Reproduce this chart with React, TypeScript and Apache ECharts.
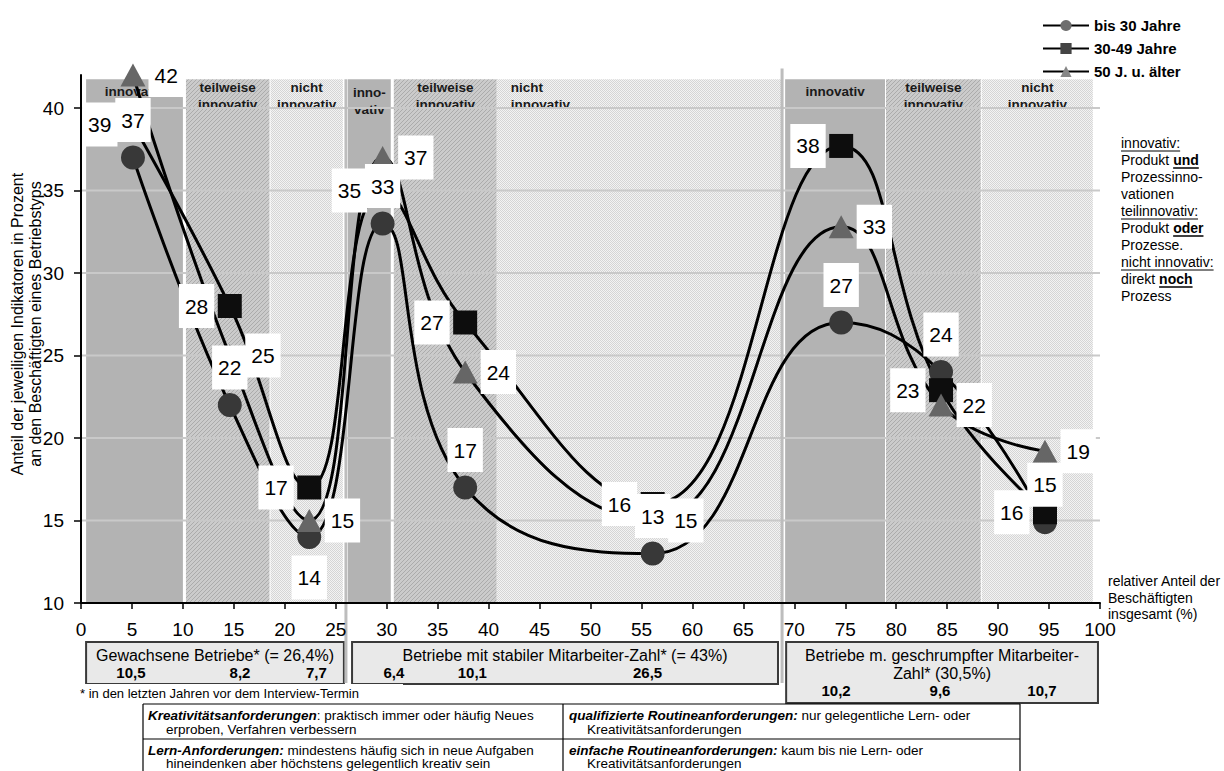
import React, { useEffect, useRef } from 'react';
import * as echarts from 'echarts';

const FONT = 'Arial, "Liberation Sans", Helvetica, sans-serif';

// ---------------- data ----------------
const seriesNames = ['bis 30 Jahre', '30-49 Jahre', '50 J. u. älter'];
const pointX = [5.1, 14.6, 22.4, 29.6, 37.7, 56.1, 74.6, 84.4, 94.6];
const valuesUnder30 = [37, 22, 14, 33, 17, 13, 27, 24, 14.9];
const values30to49 = [39, 28, 17, 35, 27, 16, 37.7, 22.9, 15.5];
const values50plus = [42, 25, 15, 37, 24, 15, 32.8, 22, 19.2];

const labelPosUnder30 = ['top', 'top', 'bottom', 'top', 'top', 'top', 'top', 'top', 'top'];
const labelPos30to49 = ['left', 'left', 'left', 'left', 'left', 'left', 'left', 'left', 'left'];
const labelPos50plus = ['right', 'right', 'right', 'right', 'right', 'right', 'right', 'right', 'right'];

const bandStart = [0.5, 10.3, 18.6, 26.2, 30.7, 40.8, 69.1, 79.0, 88.4];
const bandEnd = [10.0, 18.5, 25.7, 30.4, 40.8, 68.7, 78.9, 88.3, 99.3];
const bandKind = [0, 1, 2, 0, 1, 2, 0, 1, 2];
const bandTitle = [
  'innovativ', 'teilweise\ninnovativ', 'nicht\ninnovativ',
  'inno-\nvativ', 'teilweise\ninnovativ', 'nicht\ninnovativ',
  'innovativ', 'teilweise\ninnovativ', 'nicht\ninnovativ',
];
const BAND_TOP = 41.75;

const gridValues = [15, 20, 25, 30, 35, 40];
const yTickValues = [10, 15, 20, 25, 30, 35, 40];
const separatorX = [26.0, 68.8];
const separatorTop = [41.75, 42.4];

const groupStart = [0.5, 26.6, 69.2];
const groupEnd = [25.8, 68.4, 99.8];
const groupTitle = [
  'Gewachsene Betriebe* (= 26,4%)',
  'Betriebe mit stabiler Mitarbeiter-Zahl* (= 43%)',
  'Betriebe m. geschrumpfter Mitarbeiter-\nZahl* (30,5%)',
];
const groupShares = [['10,5', '8,2', '7,7'], ['6,4', '10,1', '26,5'], ['10,2', '9,6', '10,7']];
const groupShareX = [[4.9, 15.6, 23.1], [30.7, 38.4, 55.6], [74.1, 84.3, 94.3]];

const noteLines = [
  [{ t: 'innovativ:', u: true }],
  [{ t: 'Produkt ' }, { t: 'und', b: true, u: true }],
  [{ t: 'Prozessinno-' }],
  [{ t: 'vationen' }],
  [{ t: 'teilinnovativ:', u: true }],
  [{ t: 'Produkt ' }, { t: 'oder', b: true, u: true }],
  [{ t: 'Prozesse.' }],
  [{ t: 'nicht innovativ:', u: true }],
  [{ t: 'direkt ' }, { t: 'noch', b: true, u: true }],
  [{ t: 'Prozess' }],
];

const tableCells = [
  { x: 148, y: 715, text: '{bi|Kreativitätsanforderungen}: praktisch immer oder häufig Neues' },
  { x: 166, y: 729, text: 'erproben, Verfahren verbessern' },
  { x: 148, y: 750, text: '{bi|Lern-Anforderungen:} mindestens häufig sich in neue Aufgaben' },
  { x: 166, y: 763, text: 'hineindenken aber höchstens gelegentlich kreativ sein' },
  { x: 569, y: 715, text: '{bi|qualifizierte Routineanforderungen:} nur gelegentliche Lern- oder' },
  { x: 587, y: 729, text: 'Kreativitätsanforderungen' },
  { x: 569, y: 750, text: '{bi|einfache Routineanforderungen:} kaum bis nie Lern- oder' },
  { x: 587, y: 763, text: 'Kreativitätsanforderungen' },
];

const Y_MIN = 10;
const Y_MAX = 42;

function makeHatch() {
  const c = document.createElement('canvas');
  c.width = 4; c.height = 4;
  const g = c.getContext('2d')!;
  g.fillStyle = '#cbcbcb';
  g.fillRect(0, 0, 4, 4);
  g.fillStyle = '#ababab';
  for (let i = 0; i < 4; i++) g.fillRect(i, 3 - i, 1, 1);
  return c;
}
function makeDots() {
  const c = document.createElement('canvas');
  c.width = 2; c.height = 2;
  const g = c.getContext('2d')!;
  g.fillStyle = '#f3f3f3';
  g.fillRect(0, 0, 2, 2);
  g.fillStyle = '#d5d5d5';
  g.fillRect(0, 0, 1, 1);
  g.fillRect(1, 1, 1, 1);
  return c;
}

export default function App() {
  const ref = useRef<HTMLDivElement>(null);
  useEffect(() => {
    const el = ref.current!;
    const chart = echarts.init(el, null, { renderer: 'svg' });

    const fills: any[] = [
      '#b3b3b3',
      { image: makeHatch(), repeat: 'repeat', imageWidth: 4, imageHeight: 4 },
      { image: makeDots(), repeat: 'repeat', imageWidth: 2, imageHeight: 2 },
    ];
    const bandTitleAlign = bandKind.map((k, i) => (i === 5 ? 'left' : 'center'));
    const bandTitleOffset = [4, 0, 0, 5, 0, 0, 4, 0, 0];

    const mctx = document.createElement('canvas').getContext('2d')!;
    const measure = (t: string, bold?: boolean) => {
      mctx.font = `${bold ? 'bold ' : ''}14px ${FONT}`;
      return mctx.measureText(t).width;
    };

    const graphics: any[] = [];
    // y axis name
    graphics.push({
      type: 'text', x: 26, y: 324, rotation: Math.PI / 2,
      style: {
        text: 'Anteil der jeweiligen Indikatoren in Prozent\nan den Beschäftigten eines Betriebstyps',
        fontFamily: FONT, fontSize: 16, fill: '#000', align: 'center', verticalAlign: 'middle', lineHeight: 18,
      },
    });
    // x axis name
    graphics.push({
      type: 'text', x: 1108, y: 573,
      style: {
        text: 'relativer Anteil der\nBeschäftigten\ninsgesamt (%)',
        fontFamily: FONT, fontSize: 14, fill: '#000', align: 'left', verticalAlign: 'top', lineHeight: 16.5,
      },
    });
    // note block
    noteLines.forEach((line, li) => {
      let x = 1121;
      const y = 143 + li * 17;
      line.forEach((seg: any) => {
        const w = measure(seg.t, seg.b);
        graphics.push({
          type: 'text', x, y,
          style: {
            text: seg.t, fontFamily: FONT, fontSize: 14, fontWeight: seg.b ? 'bold' : 'normal',
            fill: '#000', align: 'left', verticalAlign: 'middle',
          },
        });
        if (seg.u) {
          const tw = seg.t.endsWith(' ') ? w - measure(' ') : w;
          graphics.push({
            type: 'line', shape: { x1: x, y1: y + 8, x2: x + tw, y2: y + 8 },
            style: { stroke: '#000', lineWidth: seg.b ? 1.5 : 1 },
          });
        }
        x += w;
      });
    });
    // cover below boxes + footnote
    graphics.push({ type: 'rect', z: 10, shape: { x: 78, y: 684, width: 325, height: 18 }, style: { fill: '#fff' } });
    graphics.push({
      type: 'text', z: 11, x: 80, y: 693,
      style: { text: '* in den letzten Jahren vor dem Interview-Termin', fontFamily: FONT, fontSize: 13, fill: '#000', align: 'left', verticalAlign: 'middle' },
    });
    // table
    const tl = [
      [143, 704, 1020, 704], [143, 739, 1020, 739],
      [143, 704, 143, 772], [563, 704, 563, 772], [1020, 704, 1020, 772],
    ];
    tl.forEach(([x1, y1, x2, y2]) => graphics.push({
      type: 'line', z: 11, shape: { x1, y1, x2, y2 }, style: { stroke: '#000', lineWidth: 1.2 },
    }));
    tableCells.forEach((c) => graphics.push({
      type: 'text', z: 11, x: c.x, y: c.y,
      style: {
        text: c.text, fontFamily: FONT, fontSize: 13.5, fill: '#000', align: 'left', verticalAlign: 'middle',
        rich: {
          bi: { fontFamily: FONT, fontSize: 13.5, fontWeight: 'bold', fontStyle: 'italic', fill: '#000' },
        },
      },
    }));

    const markerColor = ['#383838', '#0d0d0d', '#666666'];
    const legendColor = ['#6e6e6e', '#444444', '#858585'];
    const symbols = ['circle', 'rect', 'triangle'];
    const symbolSizes: any[] = [24, 24, [25, 23]];
    const allValues = [valuesUnder30, values30to49, values50plus];
    const allPos = [labelPosUnder30, labelPos30to49, labelPos50plus];

    const lineSeries = allValues.map((vals, s) => ({
      type: 'line', name: seriesNames[s],
      data: pointX.map((x, i) => [x, vals[i]]),
      smooth: 0.45, symbol: symbols[s], symbolSize: symbolSizes[s], showSymbol: true, showAllSymbol: true,
      lineStyle: { color: '#000', width: 3 }, itemStyle: { color: markerColor[s], opacity: 1 },
      z: 3, silent: true, label: { show: false },
    }));
    const labelSeries = allValues.map((vals, s) => ({
      type: 'scatter', name: 'labels-' + s,
      data: pointX.map((x, i) => ({
        value: [x, vals[i]],
        label: { position: allPos[s][i], distance: allPos[s][i] === 'bottom' ? 18 : 15 },
      })),
      symbol: 'circle', symbolSize: 1, itemStyle: { color: 'rgba(0,0,0,0)', opacity: 1 }, z: 5, silent: true,
      label: {
        show: true, formatter: (p: any) => String(Math.round(p.value[1])), opacity: 1,
        fontFamily: FONT, fontSize: 21, color: '#000', backgroundColor: '#ffffff', padding: [11, 6], lineHeight: 22,
      },
    }));

    const option: any = {
      animation: false,
      textStyle: { fontFamily: FONT },
      grid: { left: 81, right: 124, top: 75, bottom: 168, containLabel: false },
      legend: {
        data: seriesNames.map((n, i) => ({ name: n, itemStyle: { color: legendColor[i] } })),
        orient: 'vertical', left: 1037, top: 13, itemWidth: 46, itemHeight: 14, itemGap: 8,
        selectedMode: false,
        textStyle: { fontFamily: FONT, fontSize: 15, fontWeight: 'bold', color: '#000' },
      },
      xAxis: {
        type: 'value', min: 0, max: 100, interval: 5, z: 4,
        axisLine: { show: true, lineStyle: { color: '#000', width: 2 } },
        axisTick: { show: true, length: 6, lineStyle: { color: '#000', width: 1.5 } },
        axisLabel: { fontFamily: FONT, fontSize: 19, color: '#000', margin: 17 },
        splitLine: { show: false },
      },
      yAxis: {
        type: 'value', min: Y_MIN, max: Y_MAX, interval: 5, z: 4,
        axisLine: { show: true, lineStyle: { color: '#000', width: 2 } },
        axisTick: { show: true, length: 7, lineStyle: { color: '#000', width: 1.5 }, customValues: yTickValues },
        axisLabel: { fontFamily: FONT, fontSize: 19, color: '#000', margin: 17, customValues: yTickValues },
        splitLine: { show: false },
      },
      graphic: { elements: graphics },
      series: [
        {
          type: 'custom', name: 'bands', z: 1, silent: true,
          data: bandStart.map((s, i) => [s, bandEnd[i], bandKind[i]]),
          encode: { x: [0, 1] },
          renderItem: (params: any, api: any) => {
            const i = params.dataIndex;
            const a = api.coord([api.value(0), BAND_TOP]);
            const b = api.coord([api.value(1), Y_MIN]);
            const w = b[0] - a[0];
            const align = bandTitleAlign[i];
            const tx = align === 'left' ? a[0] + 14 : a[0] + w / 2;
            return {
              type: 'group',
              children: [
                { type: 'rect', shape: { x: a[0], y: a[1], width: w, height: b[1] - a[1] }, style: { fill: fills[api.value(2)] } },
                {
                  type: 'text', x: tx, y: a[1] + bandTitleOffset[i],
                  style: {
                    text: bandTitle[i], fill: '#1a1a1a', fontFamily: FONT, fontSize: 13.5, fontWeight: 'bold',
                    align, verticalAlign: 'top', lineHeight: 17,
                  },
                },
              ],
            };
          },
        },
        {
          type: 'custom', name: 'gridlines', z: 2, silent: true,
          data: gridValues.map((v) => [50, v]),
          renderItem: (params: any, api: any) => {
            const v = api.value(1);
            const a = api.coord([0, v]);
            const b = api.coord([100, v]);
            return { type: 'line', shape: { x1: a[0] + 1, y1: a[1], x2: b[0], y2: b[1] }, style: { stroke: '#c9c9c9', lineWidth: 2 } };
          },
        },
        {
          type: 'custom', name: 'separators', z: 2, silent: true,
          data: separatorX.map((x) => [x, Y_MIN]),
          renderItem: (params: any, api: any) => {
            const i = params.dataIndex;
            const a = api.coord([api.value(0), separatorTop[i]]);
            const b = api.coord([api.value(0), Y_MIN]);
            return { type: 'line', shape: { x1: a[0], y1: a[1], x2: b[0], y2: b[1] + 80 }, style: { stroke: '#bdbdbd', lineWidth: 3 } };
          },
        },
        {
          type: 'custom', name: 'groups', z: 1, silent: true,
          data: groupStart.map((s, i) => [s, Y_MIN, groupEnd[i]]),
          renderItem: (params: any, api: any) => {
            const i = params.dataIndex;
            const a = api.coord([api.value(0), Y_MIN]);
            const b = api.coord([api.value(2), Y_MIN]);
            const top = a[1] + 39;
            const nLines = groupTitle[i].split('\n').length;
            const h = nLines === 1 ? 42 : 61;
            const children: any[] = [
              { type: 'rect', shape: { x: a[0], y: top, width: b[0] - a[0], height: h }, style: { fill: '#e9e9e9', stroke: '#3a3a3a', lineWidth: 2 } },
              {
                type: 'text', x: (a[0] + b[0]) / 2, y: top + 4,
                style: { text: groupTitle[i], fill: '#000', fontFamily: FONT, fontSize: 16, align: 'center', verticalAlign: 'top', lineHeight: 18 },
              },
            ];
            groupShares[i].forEach((s, k) => {
              const p = api.coord([groupShareX[i][k], Y_MIN]);
              children.push({
                type: 'text', x: p[0], y: top + 3 + nLines * 18 + 9,
                style: { text: s, fill: '#000', fontFamily: FONT, fontSize: 15, fontWeight: 'bold', align: 'center', verticalAlign: 'middle' },
              });
            });
            return { type: 'group', children };
          },
        },
        ...lineSeries,
        ...labelSeries,
      ],
    };
    chart.setOption(option);
    return () => chart.dispose();
  }, []);
  return <div ref={ref} style={{ position: 'absolute', left: 0, top: 0, width: 1224, height: 771, background: '#fff' }} />;
}
